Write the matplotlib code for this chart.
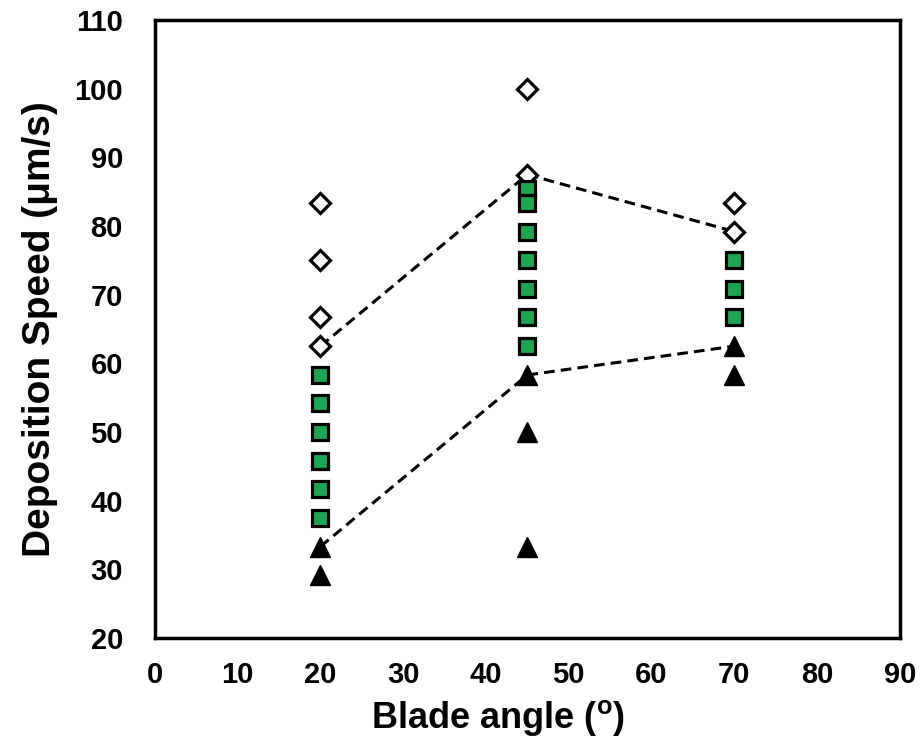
import matplotlib
matplotlib.use("Agg")
import matplotlib.pyplot as plt

# Blade angle groups and measured deposition speeds
open_x = [20, 20, 20, 20, 45, 45, 70, 70]
open_y = [83.3, 75.0, 66.7, 62.5, 100.0, 87.5, 83.3, 79.2]

sq_x = [20, 20, 20, 20, 20, 20, 45, 45, 45, 45, 45, 45, 45, 70, 70, 70]
sq_y = [58.3, 54.2, 50.0, 45.8, 41.7, 37.5,
        85.4, 83.3, 79.2, 75.0, 70.8, 66.7, 62.5,
        75.0, 70.8, 66.7]

tri_x = [20, 20, 45, 45, 45, 70, 70]
tri_y = [33.3, 29.2, 58.3, 50.0, 33.3, 62.5, 58.3]

angles = [20, 45, 70]
upper = [62.5, 87.5, 79.2]
lower = [33.3, 58.3, 62.5]

xticks = list(range(0, 91, 10))
yticks = list(range(20, 111, 10))

plt.rcParams["font.family"] = ["Liberation Sans", "DejaVu Sans"]

fig = plt.figure(figsize=(9.22, 7.46), dpi=100)
ax = fig.add_axes([0.168, 0.145, 0.808, 0.828])

ax.plot(angles, upper, "--", color="black", lw=2.2, dashes=(3.5, 2), zorder=2)
ax.plot(angles, lower, "--", color="black", lw=2.2, dashes=(3.5, 2), zorder=2)

ax.plot(open_x, open_y, "D", ms=10.5, mfc="white", mec="black", mew=2.3,
        ls="none", zorder=3)
ax.plot(sq_x, sq_y, "s", ms=12, mfc="#1fa454", mec="black", mew=2.3,
        ls="none", zorder=3)
ax.plot(tri_x, tri_y, "^", ms=14, color="black", ls="none", zorder=3)

ax.set_xlim(0, 90)
ax.set_ylim(20, 110)
ax.set_xticks(xticks)
ax.set_yticks(yticks)
ax.tick_params(axis="y", length=0, labelsize=21, pad=23)
ax.tick_params(axis="x", length=0, labelsize=21, pad=17)
for lab in ax.get_xticklabels() + ax.get_yticklabels():
    lab.set_fontweight("bold")
for s in ax.spines.values():
    s.set_linewidth(2.5)

ax.set_xlabel("Blade angle ($^{\\mathregular{o}}$)", fontsize=26,
              fontweight="bold")
ax.xaxis.set_label_coords(0.46, -0.098)
ax.set_ylabel("Deposition Speed (\u03bcm/s)", fontsize=28,
              fontweight="bold", labelpad=12)

fig.savefig("out.png", dpi=100, facecolor="white")
